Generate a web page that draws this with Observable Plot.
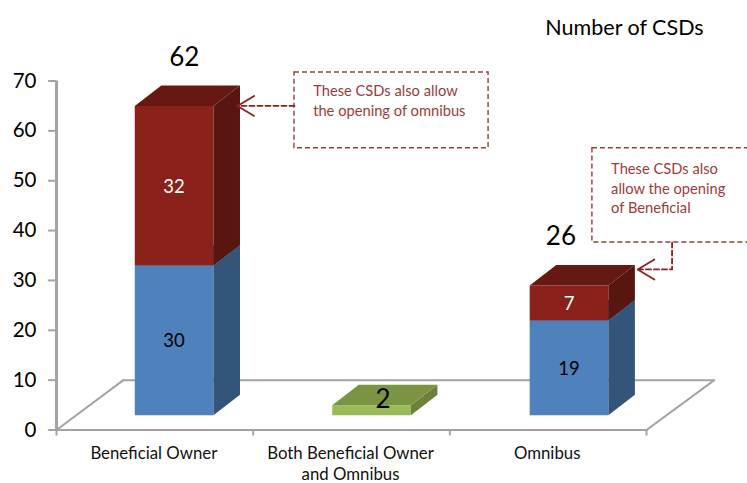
<!DOCTYPE html>
<html>
<head>
<meta charset="utf-8">
<script src="https://cdn.jsdelivr.net/npm/d3@7"></script>
<script src="https://cdn.jsdelivr.net/npm/@observablehq/plot@0.6"></script>
<style>
html,body{margin:0;padding:0;background:#fff;overflow:hidden}
</style>
</head>
<body>
<div id="chart"></div>
<script>
const categories = ["Beneficial Owner", "Both Beneficial Owner\nand Omnibus", "Omnibus"];
const beneficialValues = [30, 0, 19];
const bothValues = [0, 2, 0];
const omnibusValues = [32, 0, 7];
const totals = [62, 2, 26];
const totalLabelX = [0.65, 1.66, 2.565];
const yTicks = [0, 10, 20, 30, 40, 50, 60, 70];
const note1 = ["These CSDs also allow", "the opening of omnibus"];
const note2 = ["These CSDs also", "allow the opening", "of Beneficial"];

const FONT = "Lato, Carlito, Calibri, sans-serif";
const GREY = "#a3a3a3", NOTE = "#9b3c3a", ARROW = "#8a211c";
const palette = {
  blue:  {front: "#4f81bd", side: "#335579", top: "#3f6797"},
  red:   {front: "#8a211b", side: "#591610", top: "#661813"},
  green: {front: "#9bbb59", side: "#6a8239", top: "#7a9442"}
};

// 3-D geometry expressed in scale units
const base = 2.98, left = 0.398, barWidth = 0.4, pitch = 1.004, dx = 0.135, dy = 4.1;
const floorDx = 0.34, floorDy = 10;

const faces = [];
const texts = [];
function poly(id, fill, pts) { pts.forEach(p => faces.push({id, fill, x: p[0], y: p[1]})); }
function segment(i, from, value, c, labelFill) {
  if (!value) return;
  const x0 = i * pitch + left, x1 = x0 + barWidth, y0 = base + from, y1 = y0 + value;
  poly(`f${i}${c}`, palette[c].front, [[x0,y0],[x1,y0],[x1,y1],[x0,y1]]);
  poly(`s${i}${c}`, palette[c].side, [[x1,y0],[x1+dx,y0+dy],[x1+dx,y1+dy],[x1,y1]]);
  poly(`t${i}${c}`, palette[c].top, [[x0,y1],[x1,y1],[x1+dx,y1+dy],[x0+dx,y1+dy]]);
  if (labelFill) texts.push({x: (x0+x1)/2, y: (y0+y1)/2 - 0.2, text: String(value), fill: labelFill});
}
categories.forEach((_, i) => {
  segment(i, 0, beneficialValues[i], "blue", "#000");
  segment(i, beneficialValues[i], omnibusValues[i], "red", "#fff");
  segment(i, 0, bothValues[i], "green", null);
});
const totalLabels = totals.map((t, i) => ({
  x: totalLabelX[i],
  y: t === 2 ? 6.1 : t + base + 9.7,
  text: String(t)
}));

const floor = [[0,0],[floorDx,floorDy],[3+floorDx+0.005,floorDy],[3,0]].map(p => ({x:p[0], y:p[1]}));

const plot = Plot.plot({
  width: 747, height: 483,
  marginTop: 80.5, marginBottom: 53.5, marginLeft: 56, marginRight: 101,
  style: {fontFamily: FONT, background: "#fff", overflow: "hidden"},
  x: {domain: [0, 3], axis: null},
  y: {domain: [0, 70], axis: null},
  marks: [
    // floor of the 3-D plot
    Plot.line([floor[1], floor[0], floor[3], floor[2], floor[1]], {x: "x", y: "y", stroke: GREY, strokeWidth: 2}),
    // value axis
    Plot.ruleX([0], {y1: 0, y2: 70, stroke: GREY, strokeWidth: 3}),
    Plot.ruleY(yTicks, {x1: -0.04, x2: 0, y: d => d, stroke: GREY, strokeWidth: 2}),
    Plot.axisY({ticks: yTicks, tickSize: 0, tickPadding: 20, fontSize: 20.5, label: null, fill: "#000"}),
    // category axis
    Plot.ruleY([0], {stroke: GREY, strokeWidth: 2}),
    Plot.ruleX([0, 1, 2, 3], {y1: -1.2, y2: 0, stroke: GREY, strokeWidth: 2}),
    Plot.axisX({
      ticks: [0.5, 1.5, 2.5], tickSize: 0, tickPadding: 14, fontSize: 16.8, dx: -1,
      lineHeight: 1.25, textOverflow: null, lineAnchor: "top", label: null, fill: "#111",
      tickFormat: d => categories[Math.floor(d)]
    }),
    // bars
    Plot.line(faces, {x: "x", y: "y", z: "id", fill: "fill", stroke: null, curve: "linear-closed"}),
    // value labels
    Plot.text(texts, {x: "x", y: "y", text: "text", fill: "fill", fontSize: 18.5}),
    Plot.text(totalLabels, {x: "x", y: "y", text: "text", fill: "#000", fontSize: 26}),
    // chart title
    Plot.text(["Number of CSDs"], {x: 2.888, y: 80.7, text: d => d, fill: "#000", fontSize: 21.5}),
    // call-out boxes
    Plot.rect([{x1: 1.21, x2: 2.197, y1: 56.5, y2: 71.7}, {x1: 2.725, x2: 3.6, y1: 37.6, y2: 56.5}], {
      x1: "x1", x2: "x2", y1: "y1", y2: "y2", fill: "#fff", stroke: NOTE, strokeWidth: 1.4, strokeDasharray: "5,3"
    }),
    Plot.text(note1, {x: 1.305, y: (d, i) => 67.9 - i * 4, text: d => d, textAnchor: "start", fill: NOTE, fontSize: 14.7}),
    Plot.text(note2, {x: 2.82, y: (d, i) => 52.3 - i * 3.95, text: d => d, textAnchor: "start", fill: NOTE, fontSize: 14.7}),
    // arrows
    Plot.line([[1.21, 65],[0.92, 65]], {x: "0", y: "1", stroke: ARROW, strokeWidth: 1.8, strokeDasharray: "5,3"}),
    Plot.line([[1.005, 67],[0.92, 65],[1.005, 63]], {x: "0", y: "1", stroke: ARROW, strokeWidth: 1.8}),
    Plot.line([[3.13, 37.6],[3.13, 32.2],[2.96, 32.2]], {x: "0", y: "1", stroke: ARROW, strokeWidth: 1.8, strokeDasharray: "5,3"}),
    Plot.line([[3.04, 34.2],[2.955, 32.2],[3.04, 30.2]], {x: "0", y: "1", stroke: ARROW, strokeWidth: 1.8})
  ]
});
document.getElementById("chart").appendChild(plot);
</script>
</body>
</html>
